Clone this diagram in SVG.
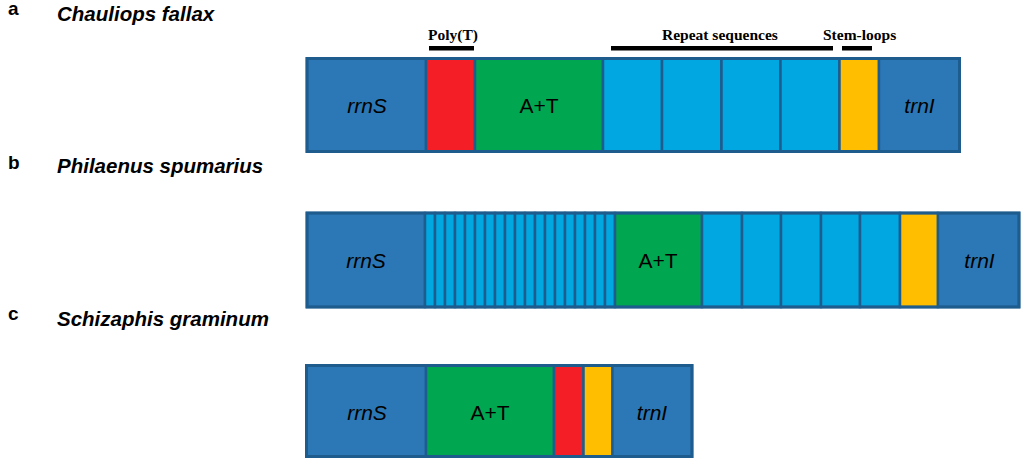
<svg xmlns="http://www.w3.org/2000/svg" width="1024" height="465" viewBox="0 0 1024 465">
<style>
.seg{stroke:#1F5C8E;stroke-width:2.5}
.frame{fill:none;stroke:#1F5C8E;stroke-width:3}
.gene{fill:#2C78B6}
.red{fill:#F41E26}
.at{fill:#00A650}
.rep{fill:#00A7E0}
.stem{fill:#FFBE00}
.lbl{font-family:"Liberation Sans",Arial,sans-serif;font-size:21px;fill:#000;text-anchor:middle}
.it{font-style:italic}
.pan{font-family:"Liberation Sans",Arial,sans-serif;font-size:19px;font-weight:bold;fill:#000}
.sp{font-family:"Liberation Sans",Arial,sans-serif;font-size:20.5px;font-weight:bold;font-style:italic;fill:#000}
.hdr{font-family:"Liberation Serif","Times New Roman",serif;font-size:15.5px;font-weight:bold;fill:#000}
.bar{fill:#000}
</style>
<rect width="1024" height="465" fill="#FFFFFF"/>

<g id="titles">
<text class="pan" x="8" y="15">a</text>
<text class="sp" x="57" y="21">Chauliops fallax</text>
<text class="pan" x="8" y="169">b</text>
<text class="sp" x="57" y="173">Philaenus spumarius</text>
<text class="pan" x="8" y="320">c</text>
<text class="sp" x="57" y="326">Schizaphis graminum</text>
</g>

<g id="annotations">
<text class="hdr" x="428" y="40">Poly(T)</text>
<rect class="bar" x="429" y="46" width="45" height="4.5"/>
<text class="hdr" x="662" y="40">Repeat sequences</text>
<rect class="bar" x="611" y="46" width="222" height="4.5"/>
<text class="hdr" x="823" y="40">Stem-loops</text>
<rect class="bar" x="842" y="46" width="30" height="4.5"/>
</g>

<g id="row-a">
<g id="a-rrnS"><rect class="seg gene" x="307" y="58.5" width="119" height="93"/><text class="lbl it" x="367" y="113">rrnS</text></g>
<g id="a-polyT"><rect class="seg red" x="426" y="58.5" width="49" height="93"/></g>
<g id="a-AT"><rect class="seg at" x="475" y="58.5" width="128" height="93"/><text class="lbl" x="539" y="113">A+T</text></g>
<g id="a-rep1"><rect class="seg rep" x="603" y="58.5" width="59" height="93"/></g>
<g id="a-rep2"><rect class="seg rep" x="662" y="58.5" width="59.5" height="93"/></g>
<g id="a-rep3"><rect class="seg rep" x="721.5" y="58.5" width="59" height="93"/></g>
<g id="a-rep4"><rect class="seg rep" x="780.5" y="58.5" width="59" height="93"/></g>
<g id="a-stem"><rect class="seg stem" x="839.5" y="58.5" width="39.5" height="93"/></g>
<g id="a-trnI"><rect class="seg gene" x="879" y="58.5" width="80.5" height="93"/><text class="lbl it" x="919.5" y="113">trnI</text></g>
<rect class="frame" x="307" y="58.5" width="652.5" height="93"/>
</g>

<g id="row-b">
<g id="b-rrnS"><rect class="seg gene" x="307" y="213" width="118" height="94"/><text class="lbl it" x="366" y="268">rrnS</text></g>
<g id="b-stripes">
<rect class="seg rep" x="425" y="213" width="10" height="94"/>
<rect class="seg rep" x="435" y="213" width="10" height="94"/>
<rect class="seg rep" x="445" y="213" width="10" height="94"/>
<rect class="seg rep" x="455" y="213" width="10" height="94"/>
<rect class="seg rep" x="465" y="213" width="10" height="94"/>
<rect class="seg rep" x="475" y="213" width="10" height="94"/>
<rect class="seg rep" x="485" y="213" width="10" height="94"/>
<rect class="seg rep" x="495" y="213" width="10" height="94"/>
<rect class="seg rep" x="505" y="213" width="10" height="94"/>
<rect class="seg rep" x="515" y="213" width="10" height="94"/>
<rect class="seg rep" x="525" y="213" width="10" height="94"/>
<rect class="seg rep" x="535" y="213" width="10" height="94"/>
<rect class="seg rep" x="545" y="213" width="10" height="94"/>
<rect class="seg rep" x="555" y="213" width="10" height="94"/>
<rect class="seg rep" x="565" y="213" width="10" height="94"/>
<rect class="seg rep" x="575" y="213" width="10" height="94"/>
<rect class="seg rep" x="585" y="213" width="10" height="94"/>
<rect class="seg rep" x="595" y="213" width="10" height="94"/>
<rect class="seg rep" x="605" y="213" width="10" height="94"/>
</g>
<g id="b-AT"><rect class="seg at" x="615" y="213" width="87" height="94"/><text class="lbl" x="658" y="268">A+T</text></g>
<g id="b-rep1"><rect class="seg rep" x="702" y="213" width="40" height="94"/></g>
<g id="b-rep2"><rect class="seg rep" x="742" y="213" width="39" height="94"/></g>
<g id="b-rep3"><rect class="seg rep" x="781" y="213" width="40" height="94"/></g>
<g id="b-rep4"><rect class="seg rep" x="821" y="213" width="39" height="94"/></g>
<g id="b-rep5"><rect class="seg rep" x="860" y="213" width="40" height="94"/></g>
<g id="b-stem"><rect class="seg stem" x="900" y="213" width="38" height="94"/></g>
<g id="b-trnI"><rect class="seg gene" x="938" y="213" width="81" height="94"/><text class="lbl it" x="979.5" y="268">trnI</text></g>
<rect class="frame" x="307" y="213" width="712" height="94"/>
</g>

<g id="row-c">
<g id="c-rrnS"><rect class="seg gene" x="306.5" y="365.5" width="119.5" height="91"/><text class="lbl it" x="367" y="420">rrnS</text></g>
<g id="c-AT"><rect class="seg at" x="426" y="365.5" width="128" height="91"/><text class="lbl" x="490" y="420">A+T</text></g>
<g id="c-polyT"><rect class="seg red" x="554" y="365.5" width="29.5" height="91"/></g>
<g id="c-stem"><rect class="seg stem" x="583.5" y="365.5" width="29" height="91"/></g>
<g id="c-trnI"><rect class="seg gene" x="612.5" y="365.5" width="79.5" height="91"/><text class="lbl it" x="652" y="420">trnI</text></g>
<rect class="frame" x="306.5" y="365.5" width="385.5" height="91"/>
</g>
</svg>
